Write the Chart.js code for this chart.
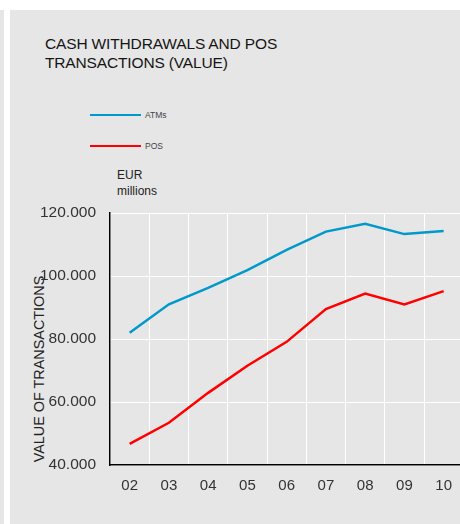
<!DOCTYPE html>
<html>
<head>
<meta charset="utf-8">
<script src="https://cdn.jsdelivr.net/npm/chart.js@4.4.0/dist/chart.umd.min.js"></script>
<style>
  html, body { margin: 0; padding: 0; width: 460px; height: 524px; overflow: hidden; background: #fff; }
  body { position: relative; font-family: "Liberation Sans", Arial, sans-serif; }
  .strip { position: absolute; left: 0; top: 10px; width: 4px; height: 514px; background: #e6e6e6; }
  .panel { position: absolute; left: 10px; top: 10px; width: 450px; height: 514px; background: #e6e6e6; overflow: hidden; }
  .title { position: absolute; left: 35px; top: 25px; font-size: 15.5px; line-height: 18.5px; color: #151515; letter-spacing: -0.15px; }
  .legend-line { position: absolute; left: 80px; width: 51px; height: 2.5px; }
  .legend-text { position: absolute; left: 135px; font-size: 8.5px; color: #444; }
  .unit { position: absolute; left: 107px; top: 157px; font-size: 12px; line-height: 16px; color: #222; }
  .ytitle { position: absolute; left: 29px; top: 359px; width: 0; height: 0; }
  .ytitle span { position: absolute; transform: translate(-50%, -50%) rotate(-90deg); white-space: nowrap; font-size: 14.4px; color: #222; }
  #wrap { position: absolute; left: 0; top: 190px; width: 454px; height: 324px; }
</style>
</head>
<body>
<div class="strip"></div>
<div class="panel">
  <div class="title">CASH WITHDRAWALS AND POS<br>TRANSACTIONS (VALUE)</div>
  <div class="legend-line" id="lg0" style="top:103.5px"></div>
  <div class="legend-text" id="lt0" style="top:100px"></div>
  <div class="legend-line" id="lg1" style="top:134.5px"></div>
  <div class="legend-text" id="lt1" style="top:131px"></div>
  <div class="unit">EUR<br>millions</div>
  <div class="ytitle"><span>VALUE OF TRANSACTIONS</span></div>
  <div id="wrap"><canvas id="chart"></canvas></div>
</div>
<script>
// Data (EUR millions)
const years = ['02', '03', '04', '05', '06', '07', '08', '09', '10'];
const atmValues = [82000, 91000, 96200, 101900, 108300, 114100, 116600, 113300, 114300];
const posValues = [46700, 53400, 62900, 71500, 79100, 89500, 94400, 91000, 95200];
const seriesNames = ['ATMs', 'POS'];
const seriesColors = ['#0099cc', '#ff0000'];
const yTicks = [40000, 60000, 80000, 100000, 120000];

// HTML legend
seriesNames.forEach((name, i) => {
    document.getElementById('lg' + i).style.background = seriesColors[i];
    document.getElementById('lt' + i).innerText = name;
});

function formatThousands(v) {
    return String(v).replace(/\B(?=(\d{3})+(?!\d))/g, '.');
}

const ctx = document.getElementById('chart').getContext('2d');
new Chart(ctx, {
    type: 'line',
    data: {
        labels: years,
        datasets: [
            { label: seriesNames[0], data: atmValues, borderColor: seriesColors[0], borderWidth: 2.5, pointRadius: 0, tension: 0 },
            { label: seriesNames[1], data: posValues, borderColor: seriesColors[1], borderWidth: 2.5, pointRadius: 0, tension: 0 }
        ]
    },
    options: {
        responsive: true,
        maintainAspectRatio: false,
        animation: false,
        layout: { padding: { top: 13, right: 0, bottom: 0, left: 0 } },
        plugins: {
            legend: { display: false },
            tooltip: { enabled: false }
        },
        scales: {
            x: {
                offset: true,
                grid: { color: '#ffffff', lineWidth: 1, offset: true, drawTicks: false },
                border: { color: '#000000', width: 1.5 },
                ticks: { color: '#333', font: { family: 'Liberation Sans', size: 15 }, padding: 12 },
                afterFit: scale => { scale.height = 59; }
            },
            y: {
                min: yTicks[0],
                max: yTicks[yTicks.length - 1],
                afterBuildTicks: scale => { scale.ticks = yTicks.map(v => ({ value: v })); },
                grid: { color: '#ffffff', lineWidth: 1, drawTicks: false },
                border: { color: '#000000', width: 1.5 },
                ticks: {
                    color: '#333',
                    font: { family: 'Liberation Sans', size: 15.5 },
                    padding: 14,
                    callback: v => formatThousands(v)
                },
                afterFit: scale => {
                    scale.width = 100;
                    scale.paddingTop = 9;
                    scale.paddingBottom = 9;
                }
            }
        }
    }
});
</script>
</body>
</html>
